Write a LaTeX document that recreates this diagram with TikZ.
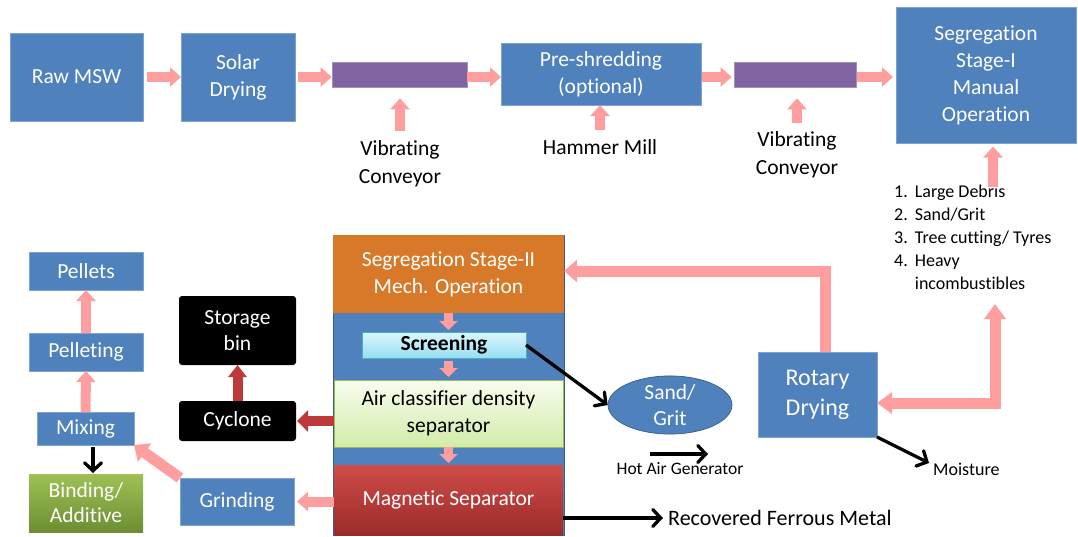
\documentclass[tikz,border=0pt]{standalone}
\usepackage{fontspec}
\setmainfont{Carlito}[RawFeature={-liga;-clig;-calt;-dlig}]
\usetikzlibrary{arrows.meta,shapes.geometric}

\definecolor{boxblue}{HTML}{4F81BD}
\definecolor{boxedge}{HTML}{7FA3D3}
\definecolor{coledge}{HTML}{385D8A}
\definecolor{convpurple}{HTML}{8064A2}
\definecolor{stageorange}{HTML}{D8792A}
\definecolor{arrowpink}{HTML}{FF9E9E}
\definecolor{arrowred}{HTML}{BE3A3A}
\definecolor{scrtop}{HTML}{DDF6FD}
\definecolor{scrbot}{HTML}{95DFF2}
\definecolor{scredge}{HTML}{4BACC6}
\definecolor{airtop}{HTML}{F8FCEF}
\definecolor{airbot}{HTML}{D2ECA8}
\definecolor{airedge}{HTML}{9BBB59}
\definecolor{magtop}{HTML}{D04C49}
\definecolor{magbot}{HTML}{9A2B29}
\definecolor{bindtop}{HTML}{9EC155}
\definecolor{bindbot}{HTML}{6C8E32}

\begin{document}
\begin{tikzpicture}[x=1pt,y=-1pt,
  boxtext/.style={rectangle, inner sep=0pt, outer sep=0pt, align=center,
    font=\fontsize{21.5}{27}\selectfont},
  bluebox/.style={boxtext, fill=boxblue, draw=boxedge, line width=0.7pt, text=white},
  blackbox/.style={boxtext, fill=black, rounded corners=3pt, text=white},
  convbar/.style={rectangle, inner sep=0pt, fill=convpurple, draw=convpurple!70!white,
    line width=0.7pt, minimum height=25pt},
  lbl/.style={inner sep=0pt, align=center, font=\fontsize{21.5}{28.5}\selectfont},
  smalllbl/.style={inner sep=0pt, font=\fontsize{17.5}{22}\selectfont},
  pinkarrow/.style={draw=arrowpink, line width=10pt, -{Triangle[length=11pt,width=19pt]}},
  smallpink/.style={draw=arrowpink, line width=9pt, -{Triangle[length=9pt,width=18pt]}},
  bigpink/.style={draw=arrowpink, line width=11pt, line join=miter,
    -{Triangle[length=13pt,width=22pt]}},
  dblpink/.style={draw=arrowpink, line width=11pt, line join=miter,
    {Triangle[length=15pt,width=21pt]}-{Triangle[length=15pt,width=21pt]}},
  redarrow/.style={draw=arrowred, line width=10pt, -{Triangle[length=11pt,width=21pt]}},
  blackarrow/.style={draw=black, line width=3.3pt,
    -{Straight Barb[length=8pt,width=17pt,line cap=round]}}
]
\useasboundingbox (0,0) rectangle (1078,536);

% ---- top row: feed preparation ----
\node[bluebox, minimum width=133pt, minimum height=88pt] (raw) at (76.5,77) {Raw MSW};
\node[bluebox, minimum width=114pt, minimum height=88pt] (solar) at (238,77) {Solar\\Drying};
\node[convbar, minimum width=135pt] (conv1) at (399.5,74.5) {};
\node[bluebox, minimum width=200pt, minimum height=62pt] (pre) at (601,74) {Pre-shredding\\(optional)};
\node[convbar, minimum width=122pt] (conv2) at (795,74.5) {};
\node[bluebox, minimum width=180pt, minimum height=136pt] (seg1) at (986,75.5)
  {Segregation\\Stage-I\\Manual\\Operation};

\node[lbl] (vib1) at (400,164) {Vibrating\\Conveyor};
\node[lbl] (hammer) at (600,147) {Hammer Mill};
\node[lbl] (vib2) at (797,155) {Vibrating\\Conveyor};

\node[anchor=north west, inner sep=0pt, font=\fontsize{18}{23}\selectfont] (debris) at (894,181)
  {\begin{tabular}{@{}l@{\hspace{7pt}}l@{}}
   1. & Large Debris\\
   2. & Sand/Grit\\
   3. & Tree cutting/ Tyres\\
   4. & Heavy\\
      & incombustibles
   \end{tabular}};
\coordinate (lsttop) at (993,187);
\coordinate (lstbot) at (995,304);

\draw[pinkarrow, shorten <=4pt] (raw.east) -- (solar.west);
\draw[pinkarrow, shorten <=3pt] (solar.east) -- (conv1.west |- solar.east);
\draw[pinkarrow] (conv1.east |- solar.east) -- (pre.west |- solar.east);
\draw[pinkarrow, shorten <=1pt, shorten >=2pt] (pre.east |- solar.east) -- (conv2.west |- solar.east);
\draw[pinkarrow, shorten <=1pt, shorten >=3pt] (conv2.east |- solar.east) -- (seg1.west |- solar.east);
\draw[pinkarrow, shorten <=9pt, shorten >=11pt] (vib1.north) -- (vib1.north |- conv1.south);
\draw[pinkarrow, shorten <=9pt] (hammer.north) -- (hammer.north |- pre.south);
\draw[pinkarrow, shorten <=8pt, shorten >=11pt] (vib2.north) -- (vib2.north |- conv2.south);
\draw[pinkarrow, shorten >=3pt] (lsttop) -- (lsttop |- seg1.south);

% ---- stage II column ----
\node[rectangle, inner sep=0pt, fill=boxblue, draw=coledge, line width=0.8pt,
  minimum width=231pt, minimum height=300pt] (column) at (448.5,385) {};
\node[boxtext, fill=stageorange, text=white, minimum width=231pt, minimum height=78pt]
  (seg2) at (448.5,274) {Segregation Stage-II\\Mech. Operation};
\node[boxtext, top color=scrtop, bottom color=scrbot, draw=scredge, line width=0.8pt,
  minimum width=164pt, minimum height=26pt, font=\fontsize{21.5}{27}\selectfont\bfseries]
  (screening) at (444,345) {Screening};
\node[boxtext, top color=airtop, bottom color=airbot, draw=airedge, line width=0.8pt,
  minimum width=229pt, minimum height=67pt] (aircl) at (448.5,413.5)
  {Air classifier density\\separator};
\node[boxtext, top color=magtop, bottom color=magbot, text=white,
  minimum width=229pt, minimum height=70pt] (magnetic) at (448.5,500) {Magnetic Separator};

\draw[smallpink, shorten >=2pt] (seg2.south) -- (seg2.south |- screening.north);
\draw[smallpink, shorten <=3pt, shorten >=3pt] (seg2.south |- screening.south) -- (seg2.south |- aircl.north);
\draw[smallpink, shorten >=2pt] (aircl.south) -- (magnetic.north);

% ---- right side ----
\node[ellipse, inner sep=0pt, fill=boxblue, draw=coledge, line width=0.7pt, text=white,
  align=center, minimum width=124pt, minimum height=57pt,
  font=\fontsize{21.5}{26}\selectfont] (sand) at (670,405) {Sand/\\Grit};
\node[bluebox, minimum width=119pt, minimum height=85pt,
  font=\fontsize{24}{30}\selectfont] (rotary) at (817.5,394.5) {Rotary\\Drying};
\node[smalllbl] (hotair) at (680,469) {Hot Air Generator};
\node[smalllbl, anchor=west, font=\fontsize{18}{22}\selectfont] (moist) at (933,469) {Moisture};
\node[inner sep=0pt, anchor=west, font=\fontsize{22}{26}\selectfont] (recov) at (668,518)
  {Recovered Ferrous Metal};
\coordinate (ha1) at (650,454);
\coordinate (ha2) at (708,454);

\draw[bigpink] ([xshift=7.5pt]rotary.north) |- ([yshift=3pt]seg2.east);
\draw[dblpink] ([yshift=-8.5pt]rotary.east) -| (lstbot);
\draw[blackarrow] (screening.east) -- (sand.west);
\draw[blackarrow] (ha1) -- (ha2);
\draw[blackarrow] (magnetic.east |- recov.west) -- ([xshift=-5pt]recov.west);
\draw[blackarrow] (rotary.south east) -- ([xshift=-4pt,yshift=6pt]moist.west);

% ---- left side: product line ----
\node[bluebox, minimum width=114pt, minimum height=38pt] (pellets) at (86,271) {Pellets};
\node[bluebox, minimum width=114pt, minimum height=38pt] (pelleting) at (86,352) {Pelleting};
\node[bluebox, minimum width=97pt, minimum height=33pt] (mixing) at (85.5,428.5) {Mixing};
\node[boxtext, top color=bindtop, bottom color=bindbot, text=white,
  minimum width=114pt, minimum height=58pt, font=\fontsize{21.5}{25}\selectfont]
  (binding) at (86,503) {Binding/\\Additive};
\node[bluebox, minimum width=114pt, minimum height=47pt] (grinding) at (237,501.5) {Grinding};
\node[blackbox, minimum width=117pt, minimum height=40pt] (cyclone) at (237.5,421) {Cyclone};
\node[blackbox, minimum width=117pt, minimum height=69pt, font=\fontsize{21.5}{26}\selectfont]
  (storage) at (237.5,330.5) {Storage\\bin};

\draw[pinkarrow, shorten >=3pt] (magnetic.west |- grinding.east) -- (grinding.east);
\draw[redarrow, shorten >=1pt] (aircl.west |- cyclone.east) -- (cyclone.east);
\draw[redarrow, -{Triangle[length=12pt,width=18pt]}] (cyclone.north) -- (storage.south);
\draw[bigpink] (grinding.north west) -- (mixing.south east);
\draw[pinkarrow] (mixing.north) -- (pelleting.south);
\draw[pinkarrow] (pelleting.north) -- (pellets.south);
\draw[blackarrow, shorten <=2pt, shorten >=1pt] ([xshift=7.5pt]mixing.south) -- ([xshift=7.5pt]mixing.south |- binding.north);

\end{tikzpicture}
\end{document}
